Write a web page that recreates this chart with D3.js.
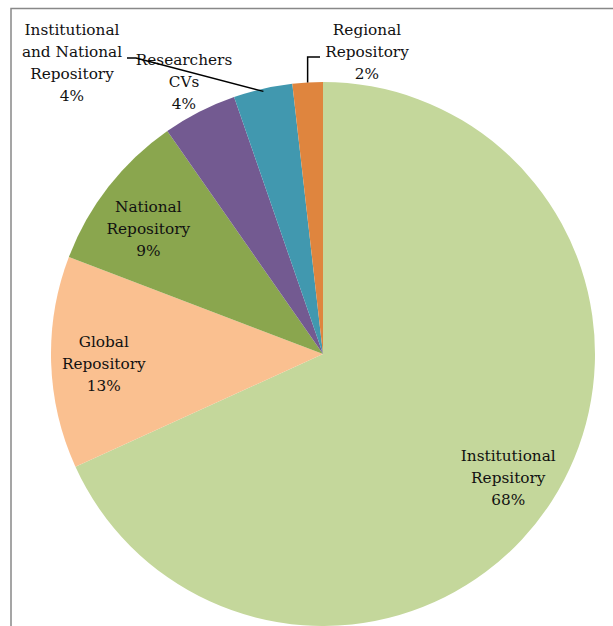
<!DOCTYPE html>
<html><head><meta charset="utf-8">
<script src="https://cdn.jsdelivr.net/npm/d3@7"></script>
<style>html,body{margin:0;padding:0;background:#fff;}svg{display:block;}</style>
</head><body>
<svg id="chart" width="613" height="626"></svg>
<script>
const categories = ["Institutional Repsitory", "Global Repository", "National Repository", "Institutional and National Repository", "Researchers CVs", "Regional Repository"];
const values = [68.2, 12.6, 9.5, 4.4, 3.5, 1.8];
const percentLabels = ["68%", "13%", "9%", "4%", "4%", "2%"];
const labelLines = [
  ["Institutional", "Repsitory", "68%"],
  ["Global", "Repository", "13%"],
  ["National", "Repository", "9%"],
  ["Institutional", "and National", "Repository", "4%"],
  ["Researchers", "CVs", "4%"],
  ["Regional", "Repository", "2%"]
];
const colors = ["#C4D79B", "#FAC090", "#8AA64E", "#735A91", "#4198AF", "#DF853E"];

const svg = d3.select("#chart");
const W = 613, H = 626;
const cx = 323, cy = 354, R = 272;

// frame
svg.append("path").attr("d", `M11,${H} V8.5 H${W}`).attr("fill","none").attr("stroke","#888").attr("stroke-width",1.5);

const pie = d3.pie().sort(null).value(d => d)(values);
const arc = d3.arc().innerRadius(0).outerRadius(R);
const g = svg.append("g").attr("transform", `translate(${cx},${cy})`);
g.selectAll("path").data(pie).join("path").attr("d", arc).attr("fill", (d,i) => colors[i]);

const labelArc = d3.arc().innerRadius(R*0.81).outerRadius(R*0.81);
const lh = 22;
const font = "'DejaVu Serif', serif";
// label anchor: inside slices use centroid (with small nudges); small slices placed outside
const nudge = {0: [0, 5], 1: [1, 3], 2: [-1, 11]};
const outside = {3: [72, 63], 4: [184, 82], 5: [367, 52]};
labelLines.forEach((lines, i) => {
  let x, y;
  if (outside[i]) { [x, y] = outside[i]; }
  else { const c = labelArc.centroid(pie[i]); x = cx + c[0] + nudge[i][0]; y = cy + c[1] + nudge[i][1]; }
  const t = svg.append("text").attr("x", x).attr("text-anchor","middle")
    .attr("font-family", font).attr("font-size", 15.3).attr("fill","#111");
  lines.forEach((s, k) => {
    t.append("tspan").attr("x", x).attr("y", y + (k - (lines.length-1)/2)*lh + 5).text(s);
  });
});

// leader lines
const a3 = pie[4]; // points into teal slice
const mid4 = (a3.startAngle + a3.endAngle)/2;
const p4 = [cx + Math.sin(mid4)*R*0.99, cy - Math.cos(mid4)*R*0.99];
svg.append("path").attr("d", `M127,58 H136 L${p4[0]},${p4[1]}`).attr("fill","none").attr("stroke","#000").attr("stroke-width",1.5);
const a5 = pie[5];
const mid5 = (a5.startAngle + a5.endAngle)/2;
const p5 = [cx + Math.sin(mid5)*R, cy - Math.cos(mid5)*R];
svg.append("path").attr("d", `M320,57 H${p5[0]} V${p5[1]}`).attr("fill","none").attr("stroke","#000").attr("stroke-width",1.5);
</script>
</body></html>
